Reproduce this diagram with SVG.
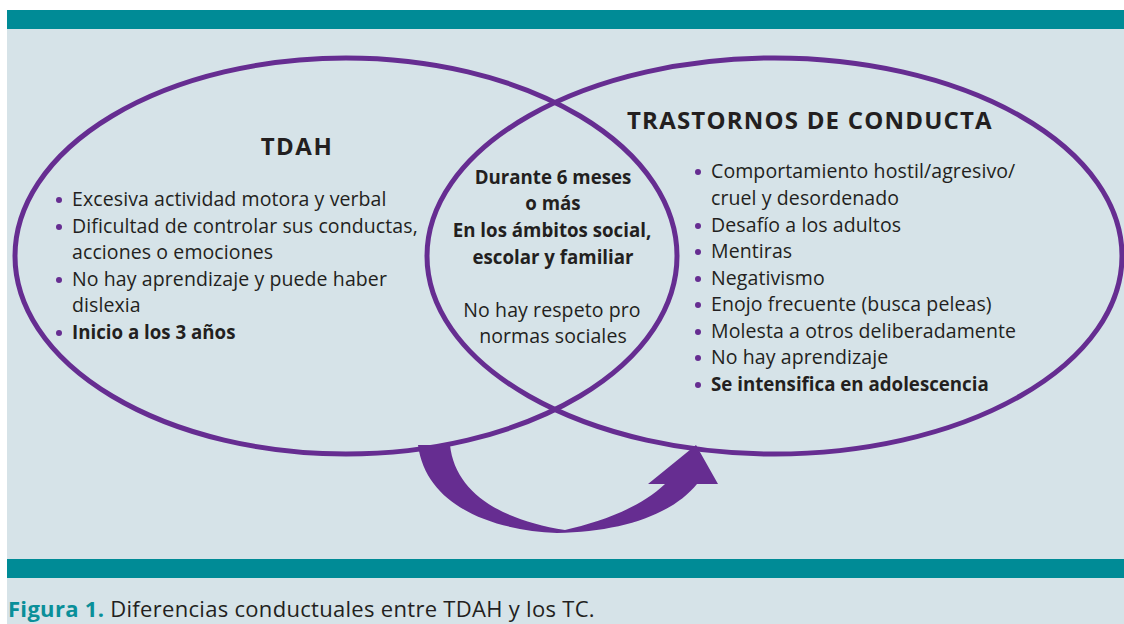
<svg xmlns="http://www.w3.org/2000/svg" width="1124" height="624" viewBox="0 0 1124 624">
<style>
.t{font-family:"Open Sans",Lato,"Liberation Sans",sans-serif;fill:#231f20;font-size:19.5px;letter-spacing:0.1px}
.b{font-weight:bold;font-size:18.7px;letter-spacing:0}
.h{font-family:"Open Sans",Lato,"Liberation Sans",sans-serif;fill:#231f20;font-weight:bold;font-size:24px}
.ell{fill:none;stroke:#662d91;stroke-width:5}
.dot{fill:#662d91}
.c{text-anchor:middle}
</style>
<rect x="0" y="0" width="1124" height="624" fill="#ffffff"/>
<rect x="7" y="10" width="1117" height="614" fill="#d6e3e8"/>
<rect x="7" y="10" width="1117" height="19" fill="#008b96"/>
<rect x="7" y="559" width="1117" height="19" fill="#008b96"/>

<g id="tdah">
<ellipse class="ell" cx="346" cy="256" rx="331" ry="198"/>
<text class="h c" x="297" y="155" letter-spacing="1.5">TDAH</text>
<circle class="dot" cx="59" cy="200" r="3"/>
<text class="t" x="72" y="206">Excesiva actividad motora y verbal</text>
<circle class="dot" cx="59" cy="227" r="3"/>
<text class="t" x="72" y="233">Dificultad de controlar sus conductas,</text>
<text class="t" x="72" y="259">acciones o emociones</text>
<circle class="dot" cx="59" cy="280" r="3"/>
<text class="t" x="72" y="286">No hay aprendizaje y puede haber</text>
<text class="t" x="72" y="312">dislexia</text>
<circle class="dot" cx="59" cy="333" r="3"/>
<text class="t b" x="72" y="339">Inicio a los 3 años</text>
</g>

<g id="tc">
<ellipse class="ell" cx="774.5" cy="256" rx="347.5" ry="198"/>
<text class="h" x="627" y="129" letter-spacing="1.2">TRASTORNOS DE CONDUCTA</text>
<circle class="dot" cx="698" cy="172" r="3"/>
<text class="t" x="711" y="178" letter-spacing="0">Comportamiento hostil/agresivo/</text>
<text class="t" x="711" y="205">cruel y desordenado</text>
<circle class="dot" cx="698" cy="226" r="3"/>
<text class="t" x="711" y="232">Desafío a los adultos</text>
<circle class="dot" cx="698" cy="252" r="3"/>
<text class="t" x="711" y="258">Mentiras</text>
<circle class="dot" cx="698" cy="279" r="3"/>
<text class="t" x="711" y="285">Negativismo</text>
<circle class="dot" cx="698" cy="305" r="3"/>
<text class="t" x="711" y="311">Enojo frecuente (busca peleas)</text>
<circle class="dot" cx="698" cy="332" r="3"/>
<text class="t" x="711" y="338" letter-spacing="0">Molesta a otros deliberadamente</text>
<circle class="dot" cx="698" cy="358" r="3"/>
<text class="t" x="711" y="364">No hay aprendizaje</text>
<circle class="dot" cx="698" cy="385" r="3"/>
<text class="t b" x="711" y="391">Se intensifica en adolescencia</text>
</g>

<g id="comun">
<text class="t b c" x="553" y="184">Durante 6 meses</text>
<text class="t b c" x="553" y="210">o más</text>
<text class="t b c" x="552" y="237">En los ámbitos social,</text>
<text class="t b c" x="553" y="264">escolar y familiar</text>
<text class="t c" x="552" y="317">No hay respeto pro</text>
<text class="t c" x="553" y="343">normas sociales</text>
</g>

<g id="connectors">
<path fill="#662d91" d="M418,445 C426,505 490,530 557,533 C620,532 672,515 697,484 L718,484 L696,445 L648,484 L665,484 C640,508 600,522 565,530 C500,520 455,492 450,445 Z"/>
</g>

<g id="caption">
<text x="8" y="617" font-family="'Open Sans',Lato,'Liberation Sans',sans-serif" font-size="22" letter-spacing="0.3"><tspan font-weight="bold" fill="#0a8f99">Figura 1.</tspan><tspan fill="#231f20"> Diferencias conductuales entre TDAH y los TC.</tspan></text>
</g>
</svg>
